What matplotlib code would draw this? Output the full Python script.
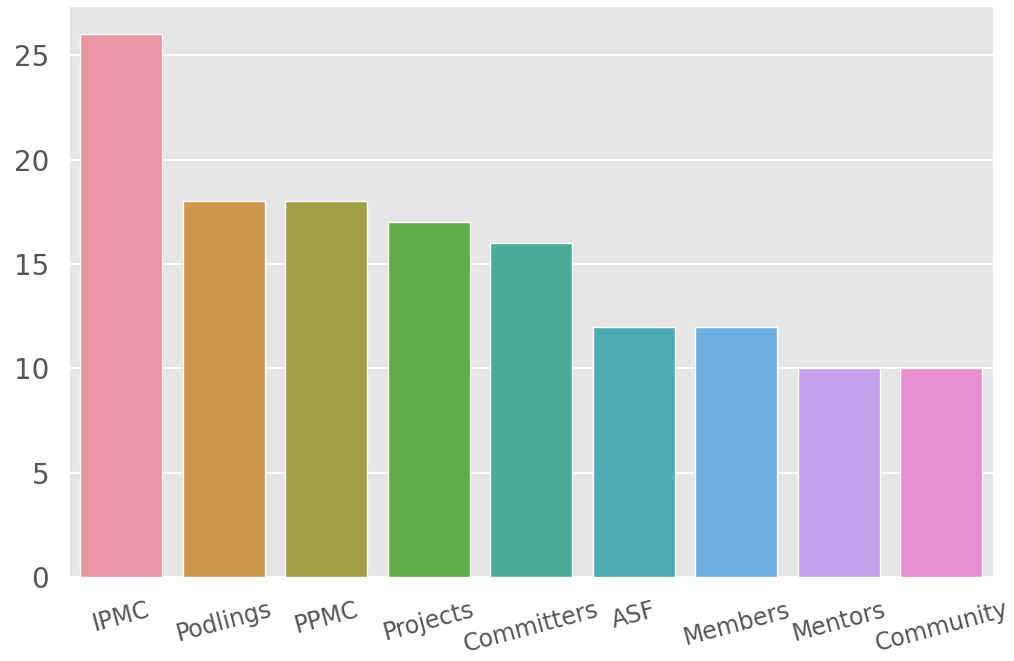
import matplotlib
matplotlib.use("Agg")
import matplotlib.pyplot as plt
import seaborn as sns
import pandas as pd

## data
categories = ["IPMC", "Podlings", "PPMC", "Projects", "Committers",
              "ASF", "Members", "Mentors", "Community"]
counts = [26, 18, 18, 17, 16, 12, 12, 10, 10]

plt.style.use("ggplot")
df = pd.DataFrame({"word": categories, "count": counts})
pal = sns.husl_palette(len(categories), l=0.7)

fig, ax = plt.subplots(figsize=(10.14, 6.61), dpi=100)
sns.barplot(data=df, x="word", y="count", hue="word", palette=pal,
            saturation=0.75, edgecolor="white", linewidth=1.0,
            legend=False, ax=ax)

ax.set_xlabel("")
ax.set_ylabel("")
ax.xaxis.grid(False)
ax.yaxis.grid(True, color="white", linewidth=1.5)
ax.set_axisbelow(True)
ax.tick_params(axis="both", length=0, colors="#555555")
ax.tick_params(axis="y", labelsize=20, pad=15)
ax.tick_params(axis="x", labelsize=17, pad=15)
plt.setp(ax.get_xticklabels(), rotation=15)
ax.set_facecolor("#E5E5E5")
for s in ax.spines.values():
    s.set_visible(False)

fig.subplots_adjust(left=0.069, right=0.979, top=0.989, bottom=0.127)
fig.savefig("out.png", dpi=100, facecolor="white")
